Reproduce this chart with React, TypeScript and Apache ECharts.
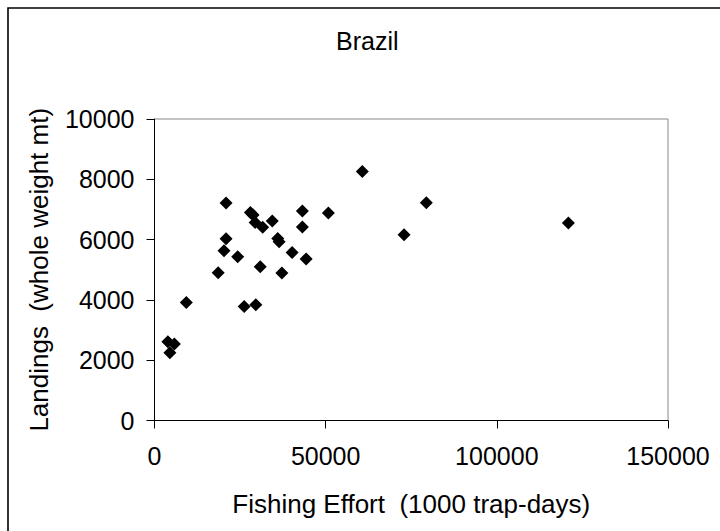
import React, { useEffect, useRef } from "react";
import * as echarts from "echarts";

const effort: number[] = [60700, 20900, 28000, 28800, 43200, 50800, 34400, 29400, 31600, 43200, 20900, 36000, 36400, 20300, 24300, 40200, 44300, 30900, 18600, 37200, 9300, 26200, 29600, 3900, 5800, 4500, 79400, 72900, 120900];
const landings: number[] = [8260, 7210, 6900, 6820, 6950, 6880, 6620, 6570, 6410, 6420, 6030, 6040, 5930, 5630, 5430, 5570, 5360, 5100, 4900, 4890, 3910, 3780, 3840, 2610, 2540, 2250, 7220, 6160, 6550];

const titleText = "Brazil";
const xName = "Fishing Effort  (1000 trap-days)";
const yName = "Landings  (whole weight mt)";
const FONT = "'Liberation Sans', Arial, sans-serif";

export default function App() {
  const ref = useRef<HTMLDivElement>(null);
  useEffect(() => {
    if (!ref.current) return;
    const chart = echarts.init(ref.current, null, { renderer: "svg" });
    const data = effort.map((x, i) => [x, landings[i]]);
    chart.setOption({
      animation: false,
      backgroundColor: "#ffffff",
      textStyle: { fontFamily: FONT },
      title: {
        text: titleText,
        left: 331,
        top: 23,
        textStyle: { fontFamily: FONT, fontSize: 25, fontWeight: "normal", color: "#000" },
      },
      graphic: [
        {
          type: "rect",
          shape: { x: 8, y: 8, width: 800, height: 600 },
          style: { fill: "none", stroke: "#000", lineWidth: 1.6 },
          silent: true,
        },
      ],
      grid: {
        left: 154.5,
        right: 52,
        top: 119,
        bottom: 110.5,
        show: true,
        borderColor: "#888888",
        borderWidth: 1,
        backgroundColor: "transparent",
      },
      xAxis: {
        type: "value",
        min: 0,
        max: 150000,
        interval: 50000,
        name: xName,
        nameLocation: "middle",
        nameGap: 70,
        nameTextStyle: { fontFamily: FONT, fontSize: 26, color: "#000" },
        splitLine: { show: false },
        axisLine: { show: true, onZero: false, lineStyle: { color: "#000", width: 1 } },
        axisTick: { show: true, inside: false, length: 8, lineStyle: { color: "#000" } },
        axisLabel: { margin: 23, fontFamily: FONT, fontSize: 25, color: "#000", formatter: (v: number) => String(v) },
      },
      yAxis: {
        type: "value",
        min: 0,
        max: 10000,
        interval: 2000,
        name: yName,
        nameLocation: "middle",
        nameGap: 103,
        nameTextStyle: { fontFamily: FONT, fontSize: 26, color: "#000" },
        splitLine: { show: false },
        axisLine: { show: true, onZero: false, lineStyle: { color: "#000", width: 1 } },
        axisTick: { show: true, inside: false, length: 8, lineStyle: { color: "#000" } },
        axisLabel: { margin: 20, fontFamily: FONT, fontSize: 25, color: "#000", formatter: (v: number) => String(v) },
      },
      series: [
        {
          type: "scatter",
          data,
          symbol: "diamond",
          symbolSize: 13,
          itemStyle: { color: "#000000", opacity: 1 },
        },
      ],
    });
    return () => chart.dispose();
  }, []);
  return (
    <div
      ref={ref}
      style={{ position: "fixed", left: 0, top: 0, width: 720, height: 531, background: "#fff" }}
    />
  );
}
